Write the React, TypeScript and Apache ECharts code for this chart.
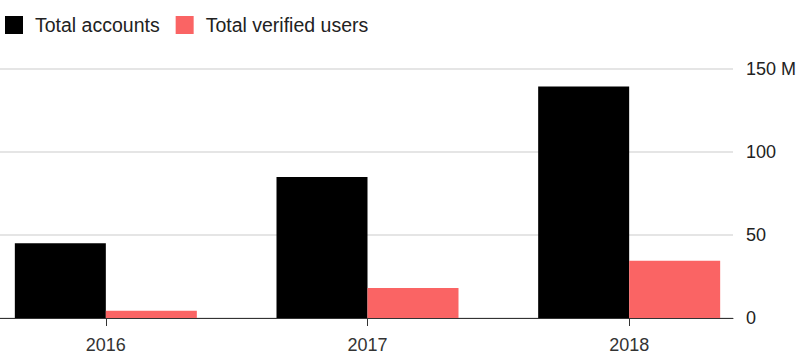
import React, { useEffect, useRef } from "react";
import * as echarts from "echarts";

const categories = ["2016", "2017", "2018"];
const totalAccounts = [45, 85, 139.5];
const verifiedUsers = [4.3, 18, 34.5];
const yTicks = [0, 50, 100, 150];

const FONT = "'Liberation Sans', Arial, Helvetica, sans-serif";

export default function App() {
  const ref = useRef<HTMLDivElement>(null);
  useEffect(() => {
    if (!ref.current) return;
    const chart = echarts.init(ref.current, null, { renderer: "svg" });
    chart.setOption({
      animation: false,
      backgroundColor: "#ffffff",
      textStyle: { fontFamily: FONT },
      legend: {
        left: 5,
        top: 15,
        padding: 0,
        itemWidth: 18,
        itemHeight: 18,
        itemGap: 16,
        icon: "rect",
        textStyle: { fontSize: 19.5, color: "#222", fontFamily: FONT, padding: [0, 0, 0, 7] },
        data: ["Total accounts", "Total verified users"],
      },
      grid: [
        { left: -25, width: 785, top: 69, bottom: 42, outerBoundsMode: "none", containLabel: false },
        { left: 0, width: 733, top: 69, bottom: 42, outerBoundsMode: "none", containLabel: false },
      ],
      xAxis: [
        {
          type: "category",
          gridIndex: 0,
          data: categories,
          axisLine: { show: false },
          axisTick: { show: true, alignWithLabel: true, length: 8, lineStyle: { color: "#333", width: 1 } },
          axisLabel: { fontSize: 18, color: "#333", margin: 18, fontFamily: FONT },
          splitLine: { show: false },
          z: 5,
        },
        {
          type: "value",
          gridIndex: 1,
          min: 0,
          max: 1,
          axisLine: { show: true, lineStyle: { color: "#333", width: 1 } },
          axisTick: { show: false },
          axisLabel: { show: false },
          splitLine: { show: false },
        },
      ],
      yAxis: [
        { type: "value", gridIndex: 0, min: 0, max: 150, interval: 50, show: false, splitLine: { show: false } },
        {
          type: "value",
          gridIndex: 1,
          position: "right",
          min: yTicks[0],
          max: yTicks[yTicks.length - 1],
          interval: 50,
          axisLine: { show: false },
          axisTick: { show: false },
          axisLabel: {
            fontSize: 18,
            color: "#222",
            margin: 13,
            fontFamily: FONT,
            formatter: (v: number) => (v === 150 ? "150 M" : String(v)),
          },
          splitLine: { show: true, lineStyle: { color: "#dcdcdc", width: 1.5 } },
        },
      ],
      series: [
        {
          name: "Total accounts",
          type: "bar",
          xAxisIndex: 0,
          yAxisIndex: 0,
          data: totalAccounts,
          barWidth: 91,
          barGap: "0%",
          itemStyle: { color: "#000000" },
          z: 3,
        },
        {
          name: "Total verified users",
          type: "bar",
          xAxisIndex: 0,
          yAxisIndex: 0,
          data: verifiedUsers,
          barWidth: 91,
          barGap: "0%",
          itemStyle: { color: "#fa6464" },
          z: 3,
        },
      ],
    });
    return () => chart.dispose();
  }, []);
  return <div ref={ref} style={{ width: 804, height: 360, position: "absolute", left: 0, top: 0 }} />;
}
